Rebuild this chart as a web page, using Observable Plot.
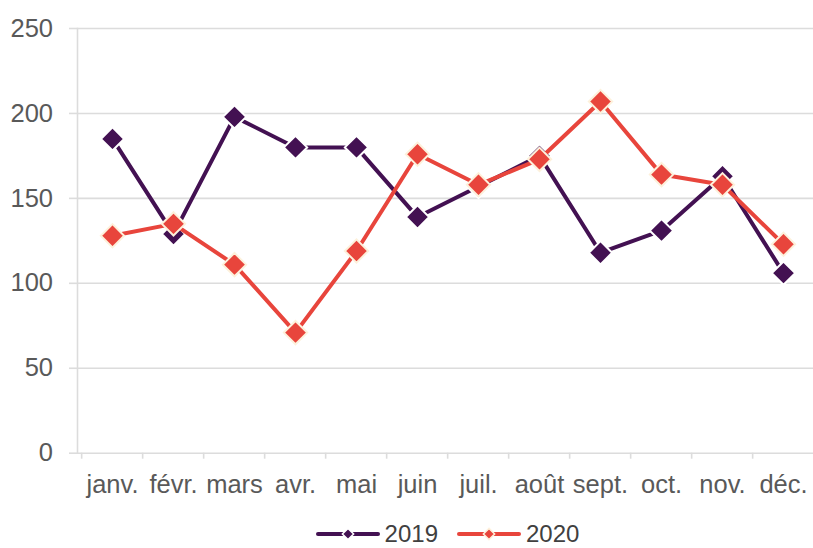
<!DOCTYPE html>
<html>
<head>
<meta charset="utf-8">
<script src="https://cdn.jsdelivr.net/npm/d3@7"></script>
<script src="https://cdn.jsdelivr.net/npm/@observablehq/plot@0.6"></script>
<style>
  html, body { margin: 0; padding: 0; background: #ffffff; }
  body { position: relative; width: 813px; height: 548px; overflow: hidden; font-family: "Liberation Sans", Arial, sans-serif; }
  #legend { position: absolute; left: 82px; right: 0; top: 524px; height: 20px; display: flex; justify-content: center; align-items: center; gap: 19px; }
  .item { display: flex; align-items: center; gap: 5px; font-size: 24px; line-height: 20px; height: 20px; color: #404040; }
</style>
</head>
<body>
<div id="chart"></div>
<div id="legend"></div>
<script>
const months = ["janv.", "févr.", "mars", "avr.", "mai", "juin", "juil.", "août", "sept.", "oct.", "nov.", "déc."];
const values2019 = [185, 129, 198, 180, 180, 139, 157, 175, 118, 131, 163, 106];
const values2020 = [128, 135, 111, 71, 119, 176, 158, 173, 207, 164, 158, 123];
const seriesNames = ["2019", "2020"];
const seriesColors = ["#431152", "#e8453c"];
const markerStrokes = ["#ffffff", "#fdf1dc"];
const yTicks = [0, 50, 100, 150, 200, 250];

const series = [values2019, values2020];
const data = [];
series.forEach((vals, s) => vals.forEach((v, i) => data.push({month: months[i], value: v, series: seriesNames[s]})));

const gridColor = "#dcdcdc";
const textColor = "#595959";

const marks = [
  Plot.gridY(yTicks, {stroke: gridColor, strokeOpacity: 1, strokeWidth: 1.6}),
  Plot.axisY(yTicks, {tickSize: 8, tickPadding: 16.5, stroke: gridColor, strokeWidth: 1.6, fill: textColor, fontSize: 25.5, label: null}),
  Plot.frame({anchor: "left", stroke: gridColor, strokeWidth: 1.6}),
  Plot.axisX({ticks: months, tickSize: 6, tickFormat: () => "", dx: -30.85, stroke: gridColor, strokeWidth: 1.6, label: null}),
  Plot.axisX({ticks: months, tickSize: 0, tickPadding: 22, fill: textColor, fontSize: 25.5, label: null})
];
seriesNames.forEach((name, s) => {
  const d = data.filter(r => r.series === name);
  marks.push(Plot.line(d, {x: "month", y: "value", stroke: seriesColors[s], strokeWidth: 4, strokeLinejoin: "round"}));
  marks.push(Plot.dot(d, {x: "month", y: "value", symbol: "diamond2", r: 10.5, fill: seriesColors[s], stroke: markerStrokes[s], strokeWidth: 2}));
});

const chart = Plot.plot({
  width: 813,
  height: 510,
  marginLeft: 77,
  marginRight: 0,
  marginTop: 28,
  marginBottom: 57.3,
  style: {fontFamily: "'Liberation Sans', Arial, sans-serif", background: "#ffffff", overflow: "visible"},
  x: {type: "point", domain: months, range: [107.9, 786.5], padding: 0},
  y: {domain: [0, 250]},
  marks
});
document.getElementById("chart").appendChild(chart);

const legend = d3.select("#legend");
seriesNames.forEach((name, s) => {
  const item = legend.append("div").attr("class", "item");
  const svg = item.append("svg").attr("width", 64).attr("height", 20);
  svg.append("line").attr("x1", 2).attr("x2", 62).attr("y1", 10).attr("y2", 10)
    .attr("stroke", seriesColors[s]).attr("stroke-width", 4).attr("stroke-linecap", "round");
  svg.append("path").attr("transform", "translate(32,10)")
    .attr("d", d3.symbol(d3.symbolDiamond2, 80)())
    .attr("fill", seriesColors[s]).attr("stroke", markerStrokes[s]).attr("stroke-width", 1.5);
  item.append("span").text(name);
});
</script>
</body>
</html>
